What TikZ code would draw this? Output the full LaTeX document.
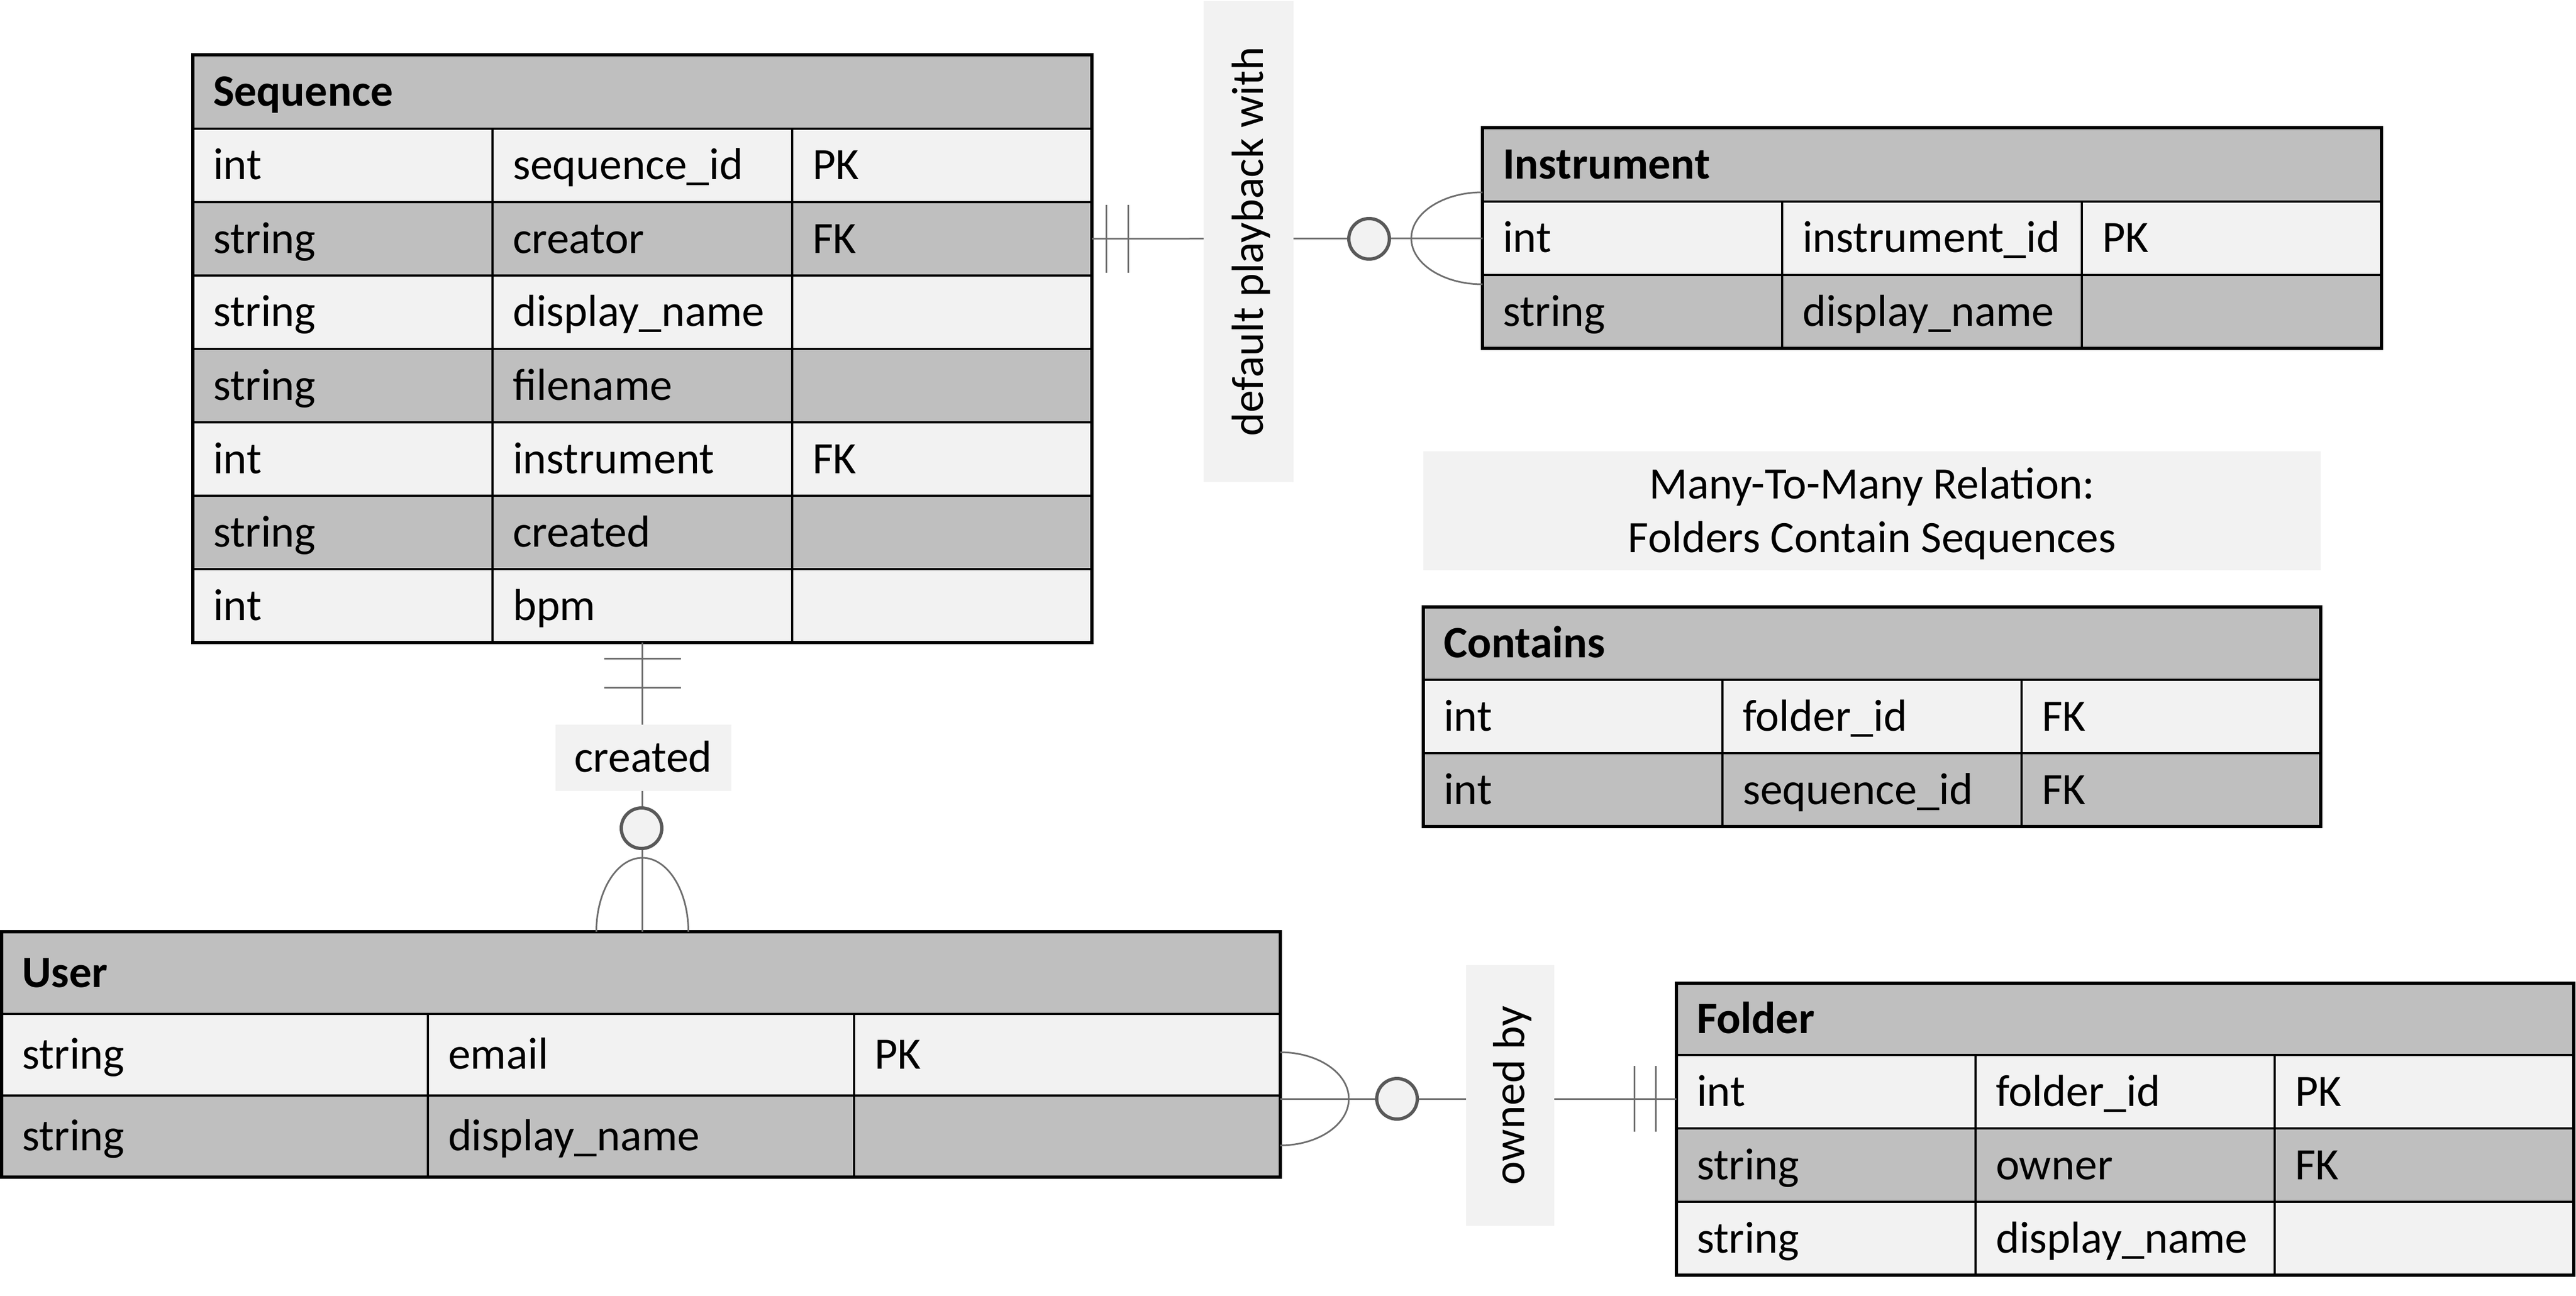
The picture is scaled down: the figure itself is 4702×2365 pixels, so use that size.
\documentclass[tikz,border=0pt]{standalone}
\usepackage{fontspec}
\setmainfont{Carlito}
\definecolor{cDark}{HTML}{BFBFBF}
\definecolor{cLite}{HTML}{F2F2F2}
\definecolor{cLine}{HTML}{6E6E6E}
\definecolor{cCirc}{HTML}{595959}
\newcommand\erfont{\fontsize{23.3pt}{28pt}\selectfont}
% #1 name, #2 position, #3 col width, #4 text width, #5 height, #6 fill, #7-#9 texts
\newcommand\ertrow[9]{%
  \node[cell, fill=#6, minimum width=#3, text width=#4, minimum height=#5] (#1a) at #2 {#7};
  \node[cell, fill=#6, minimum width=#3, text width=#4, minimum height=#5] (#1b) at (#1a.north east) {#8};
  \node[cell, fill=#6, minimum width=#3, text width=#4, minimum height=#5] (#1c) at (#1b.north east) {#9};
}
\begin{document}
\begin{tikzpicture}[x=0.1mm,y=-0.1mm,
  every node/.style={font=\erfont},
  cell/.style={draw=black, line width=0.35mm, anchor=north west, outer sep=0pt,
    inner xsep=3.7mm, inner ysep=0pt, align=left, text height=7mm, text depth=1.8mm},
  hdrcell/.style={cell, fill=cDark, font=\erfont\bfseries},
  frame/.style={draw=black, line width=0.6mm},
  connline/.style={draw=cLine, line width=0.3mm},
  optcircle/.style={circle, draw=cCirc, line width=0.6mm, fill=cLite, minimum size=7.4mm, inner sep=0pt, outer sep=0pt},
  lbl/.style={fill=cLite, inner sep=0pt, outer sep=0pt, text height=7mm, text depth=1.8mm}]
\useasboundingbox (0,0) rectangle (4702,2365);

% ---------- Sequence ----------
\node[hdrcell, minimum width=164.1mm, text width=156.7mm, minimum height=13.5mm] (seqh) at (352,100) {Sequence};
\ertrow{seq1}{(seqh.south west)}{54.7mm}{47.3mm}{13.4mm}{cLite}{int}{sequence\_id}{PK}
\ertrow{seq2}{(seq1a.south west)}{54.7mm}{47.3mm}{13.4mm}{cDark}{string}{creator}{FK}
\ertrow{seq3}{(seq2a.south west)}{54.7mm}{47.3mm}{13.4mm}{cLite}{string}{display\_name}{}
\ertrow{seq4}{(seq3a.south west)}{54.7mm}{47.3mm}{13.4mm}{cDark}{string}{filename}{}
\ertrow{seq5}{(seq4a.south west)}{54.7mm}{47.3mm}{13.4mm}{cLite}{int}{instrument}{FK}
\ertrow{seq6}{(seq5a.south west)}{54.7mm}{47.3mm}{13.4mm}{cDark}{string}{created}{}
\ertrow{seq7}{(seq6a.south west)}{54.7mm}{47.3mm}{13.4mm}{cLite}{int}{bpm}{}
\draw[frame] (seqh.north west) rectangle (seq7c.south east);

% ---------- Instrument ----------
\node[hdrcell, minimum width=164.1mm, text width=156.7mm, minimum height=13.5mm] (insh) at (2706,233) {Instrument};
\ertrow{ins1}{(insh.south west)}{54.7mm}{47.3mm}{13.4mm}{cLite}{int}{instrument\_id}{PK}
\ertrow{ins2}{(ins1a.south west)}{54.7mm}{47.3mm}{13.4mm}{cDark}{string}{display\_name}{}
\draw[frame] (insh.north west) rectangle (ins2c.south east);

% ---------- Many-to-many note ----------
\node[fill=cLite, minimum width=163.8mm, minimum height=21.7mm, inner sep=0pt] (manybox) at (3417,932) {};
\node[anchor=base] (many1) at (3417,910) {Many-To-Many Relation:};
\node[anchor=base] (many2) at (3417,1008) {Folders Contain Sequences};

% ---------- Contains ----------
\node[hdrcell, minimum width=163.8mm, text width=156.4mm, minimum height=13.3mm] (conh) at (2598,1108) {Contains};
\ertrow{con1}{(conh.south west)}{54.6mm}{47.2mm}{13.4mm}{cLite}{int}{folder\_id}{FK}
\ertrow{con2}{(con1a.south west)}{54.6mm}{47.2mm}{13.4mm}{cDark}{int}{sequence\_id}{FK}
\draw[frame] (conh.north west) rectangle (con2c.south east);

% ---------- User ----------
\node[hdrcell, minimum width=233.4mm, text width=226mm, minimum height=15mm] (usrh) at (3,1701) {User};
\ertrow{usr1}{(usrh.south west)}{77.8mm}{70.4mm}{14.9mm}{cLite}{string}{email}{PK}
\ertrow{usr2}{(usr1a.south west)}{77.8mm}{70.4mm}{14.9mm}{cDark}{string}{display\_name}{}
\draw[frame] (usrh.north west) rectangle (usr2c.south east);

% ---------- Folder ----------
\node[hdrcell, minimum width=163.8mm, text width=156.4mm, minimum height=13.1mm] (folh) at (3060,1795) {Folder};
\ertrow{fol1}{(folh.south west)}{54.6mm}{47.2mm}{13.4mm}{cLite}{int}{folder\_id}{PK}
\ertrow{fol2}{(fol1a.south west)}{54.6mm}{47.2mm}{13.4mm}{cDark}{string}{owner}{FK}
\ertrow{fol3}{(fol2a.south west)}{54.6mm}{47.2mm}{13.4mm}{cLite}{string}{display\_name}{}
\draw[frame] (folh.north west) rectangle (fol3c.south east);

% ---------- Sequence -- Instrument ----------
\draw[connline] (seq2c.east) -- (ins1a.west);
\draw[connline] ([xshift=2.6mm,yshift=6.2mm]seq2c.east) -- ([xshift=2.6mm,yshift=-6.2mm]seq2c.east);
\draw[connline] ([xshift=6.6mm,yshift=6.2mm]seq2c.east) -- ([xshift=6.6mm,yshift=-6.2mm]seq2c.east);
\draw[connline] ([yshift=8.4mm]ins1a.west) arc[start angle=90, end angle=270, x radius=13mm, y radius=8.4mm];
\node[lbl, rotate=90, minimum width=87.8mm, minimum height=16.4mm] (lblplay) at (2279,441) {default playback with};
\node[optcircle] (opt1) at (2499,436) {};

% ---------- Sequence -- User ----------
\coordinate (su) at (seq7b.south |- usrh.north);
\draw[connline] (seq7b.south) -- (su);
\draw[connline] ([xshift=-7mm,yshift=-2.9mm]seq7b.south) -- ([xshift=7mm,yshift=-2.9mm]seq7b.south);
\draw[connline] ([xshift=-7mm,yshift=-8.2mm]seq7b.south) -- ([xshift=7mm,yshift=-8.2mm]seq7b.south);
\draw[connline] ([xshift=-8.4mm]su) arc[start angle=180, end angle=0, x radius=8.4mm, y radius=13.5mm];
\node[lbl, minimum width=32.1mm, minimum height=12.1mm] (lblcreated) at (1174,1383) {created};
\node[optcircle] (opt2) at (1171,1512) {};

% ---------- User -- Folder ----------
\coordinate (fu) at ([yshift=-1.3mm]fol1a.west);
\coordinate (uf) at (usr1c.east |- fu);
\draw[connline] (uf) -- (fu);
\draw[connline] ([xshift=-3.8mm,yshift=6mm]fu) -- ([xshift=-3.8mm,yshift=-6mm]fu);
\draw[connline] ([xshift=-7.7mm,yshift=6mm]fu) -- ([xshift=-7.7mm,yshift=-6mm]fu);
\draw[connline] ([yshift=8.5mm]uf) arc[start angle=90, end angle=-90, x radius=12.5mm, y radius=8.5mm];
\node[lbl, rotate=90, minimum width=47.6mm, minimum height=16.1mm] (lblown) at (2756,2000) {owned by};
\node[optcircle] (opt3) at (2550,2006) {};
\end{tikzpicture}
\end{document}
